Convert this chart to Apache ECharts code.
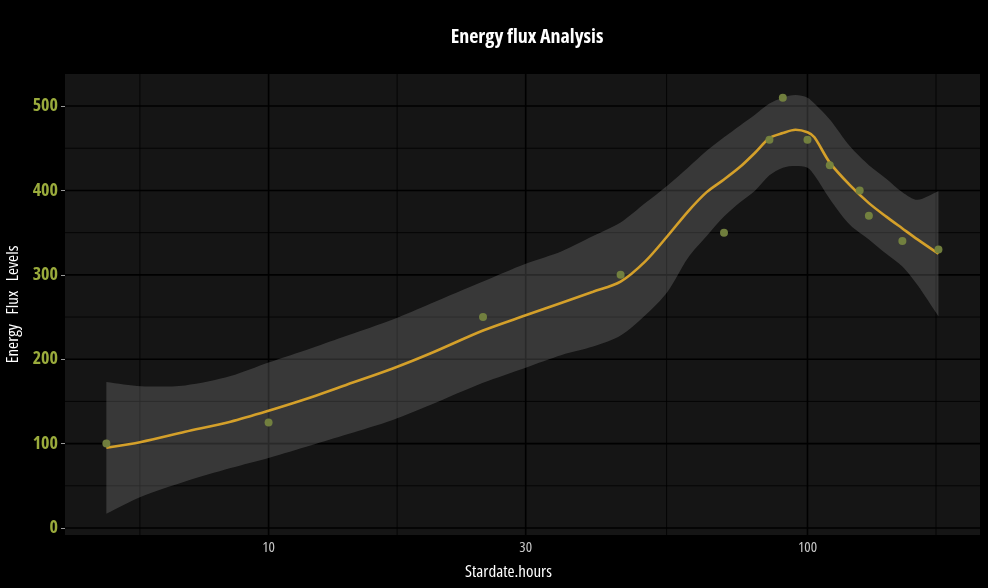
<!DOCTYPE html>
<html>
<head>
<meta charset="utf-8">
<script src="https://cdn.jsdelivr.net/npm/echarts@6/dist/echarts.min.js"></script>
<style>
html,body{margin:0;padding:0;background:#000;}
#chart{width:988px;height:588px;}
</style>
</head>
<body>
<div id="chart"></div>
<script>
// Observed points
const pointX = [5, 10, 25, 45, 70, 85, 90, 100, 110, 125, 130, 150, 175];
const pointY = [100, 125, 250, 300, 350, 460, 510, 460, 430, 400, 370, 340, 330];

// Smoothed fit and confidence band
const fitX     = [5, 5.8, 7, 8.5, 10, 12, 14, 17, 20, 25, 30, 35, 40, 45, 50, 55, 60, 65, 70, 75, 80, 85, 90, 95, 100, 103, 110, 120, 130, 140, 150, 160, 175];
const fitY     = [95, 102, 114, 126, 139, 155, 170, 189, 207, 234, 252, 267, 280, 292, 316, 346, 375, 398, 413, 428, 445, 462, 468, 472, 469, 463, 433, 406, 385, 369, 355, 342, 325];
const fitUpper = [173, 168, 169, 180, 196, 213, 228, 247, 266, 292, 313, 328, 346, 362, 385, 406, 427, 447, 463, 477, 490, 503, 510, 513, 510, 503, 484, 452, 430, 414, 398, 389, 399];
const fitLower = [17, 37, 55, 71, 83, 98, 111, 128, 146, 172, 190, 205, 215, 228, 252, 280, 320, 346, 369, 386, 400, 418, 427, 429, 427, 418, 390, 359, 342, 325, 310, 288, 251];

// Axis breaks
const xTicks = [10, 30, 100];
const xMinorBreaks = [5.77, 17.32, 54.77, 173.2];
const yTicks = [0, 100, 200, 300, 400, 500];
const yMinorBreaks = [50, 150, 250, 350, 450];

const X_MIN = 4.19, X_MAX = 209;
const Y_MIN = -8.3, Y_MAX = 538;

const FONT = '"Open Sans", "Noto Sans", "DejaVu Sans", sans-serif';

const chart = echarts.init(document.getElementById('chart'), null, {renderer: 'canvas'});

function gridRender(params, api) {
  if (params.dataIndex !== 0) return null;
  const children = [];
  const add = (p1, p2, w) => children.push({
    type: 'line',
    shape: {x1: p1[0], y1: p1[1], x2: p2[0], y2: p2[1]},
    style: {stroke: '#000000', lineWidth: w}
  });
  xMinorBreaks.forEach(v => add(api.coord([v, Y_MIN]), api.coord([v, Y_MAX]), 0.8));
  yMinorBreaks.forEach(v => add(api.coord([X_MIN, v]), api.coord([X_MAX, v]), 0.8));
  xTicks.forEach(v => add(api.coord([v, Y_MIN]), api.coord([v, Y_MAX]), 1.6));
  yTicks.forEach(v => add(api.coord([X_MIN, v]), api.coord([X_MAX, v]), 1.6));
  return {type: 'group', children: children};
}

function ribbonRender(params, api) {
  if (params.dataIndex !== 0) return null;
  const n = fitX.length;
  const pts = [];
  // duplicated end points keep the band's vertical ends straight when smoothing
  pts.push(api.coord([fitX[0], fitUpper[0]]));
  for (let i = 0; i < n; i++) pts.push(api.coord([fitX[i], fitUpper[i]]));
  pts.push(api.coord([fitX[n - 1], fitUpper[n - 1]]));
  pts.push(api.coord([fitX[n - 1], fitLower[n - 1]]));
  for (let i = n - 1; i >= 0; i--) pts.push(api.coord([fitX[i], fitLower[i]]));
  pts.push(api.coord([fitX[0], fitLower[0]]));
  return {
    type: 'polygon',
    shape: {points: pts, smooth: 0.3},
    style: {fill: 'rgba(150,150,150,0.27)'}
  };
}

const option = {
  backgroundColor: '#000000',
  animation: false,
  title: {
    text: 'Energy flux Analysis',
    left: 522,
    top: 22,
    textAlign: 'center',
    textStyle: {color: '#ffffff', fontSize: 20, fontWeight: 'bold condensed', fontFamily: FONT}
  },
  grid: {
    left: 65, right: 8, top: 74, bottom: 53,
    outerBoundsMode: 'none',
    containLabel: false,
    show: true, backgroundColor: '#151515', borderWidth: 0
  },
  xAxis: {
    type: 'log',
    logBase: 10,
    min: X_MIN,
    max: X_MAX,
    name: 'Stardate.hours',
    nameLocation: 'middle',
    nameGap: 29,
    nameTextStyle: {color: '#ffffff', fontSize: 17, fontWeight: '400 condensed', fontFamily: FONT, padding: [0, 28, 0, 0]},
    axisLine: {show: false},
    axisTick: {show: true, customValues: xTicks, length: 4, lineStyle: {color: '#999999', width: 1}},
    axisLabel: {customValues: xTicks, color: '#c8c8c8', fontSize: 15, fontWeight: '400 condensed', fontFamily: FONT, margin: 5},
    splitLine: {show: false},
    minorSplitLine: {show: false}
  },
  yAxis: {
    type: 'value',
    min: Y_MIN,
    max: Y_MAX,
    name: 'Energy   Flux   Levels',
    nameLocation: 'middle',
    nameGap: 37,
    nameTextStyle: {color: '#ffffff', fontSize: 17, fontWeight: '400 condensed', fontFamily: FONT},
    axisLine: {show: false},
    axisTick: {show: true, customValues: yTicks, length: 4, lineStyle: {color: '#999999', width: 1}},
    axisLabel: {customValues: yTicks, color: '#9aab3c', fontSize: 18, fontWeight: 'bold condensed', fontFamily: FONT, margin: 7},
    splitLine: {show: false}
  },
  series: [
    {
      type: 'custom',
      z: 1,
      silent: true,
      renderItem: gridRender,
      data: [[10, 100]],
      clip: true
    },
    {
      type: 'custom',
      z: 2,
      silent: true,
      renderItem: ribbonRender,
      data: [[10, 100]],
      clip: true
    },
    {
      type: 'line',
      z: 3,
      data: fitX.map((x, i) => [x, fitY[i]]),
      smooth: 0.3,
      showSymbol: false,
      symbol: 'none',
      lineStyle: {color: '#d4a02a', width: 2.6}
    },
    {
      type: 'scatter',
      z: 4,
      data: pointX.map((x, i) => [x, pointY[i]]),
      symbolSize: 8,
      itemStyle: {color: '#75843f', opacity: 0.95}
    }
  ]
};

chart.setOption(option);
</script>
</body>
</html>
